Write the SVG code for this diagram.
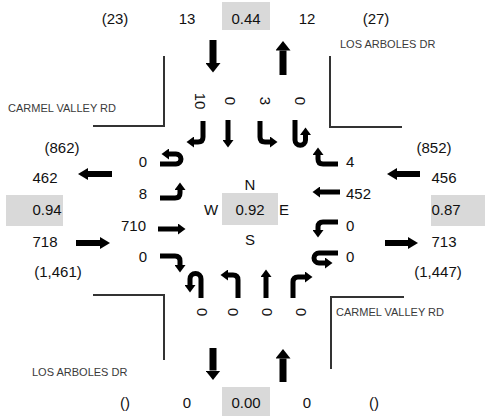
<svg xmlns="http://www.w3.org/2000/svg" width="485" height="416" viewBox="0 0 485 416">
  <defs>
    <style>
      .t { font-family: "Liberation Sans", Arial, sans-serif; font-size: 15px; fill: #111; }
      .m { text-anchor: middle; }
      .e { text-anchor: end; }
      .road { font-family: "Liberation Sans", Arial, sans-serif; font-size: 11px; fill: #3a3a3a; }
      .box { fill: #d9d9d9; }
      .curb { fill: none; stroke: #333; stroke-width: 2; }
      .lane { fill: none; stroke: #000; stroke-width: 5; marker-end: url(#tip); }
      .bigv { fill: none; stroke: #000; stroke-width: 7; marker-end: url(#bigtipv); }
      .bigh { fill: none; stroke: #000; stroke-width: 6; marker-end: url(#bigtiph); }
    </style>
    <!-- lane arrowhead: base at path end, tip 7px beyond -->
    <marker id="tip" markerUnits="userSpaceOnUse" markerWidth="8" markerHeight="11" refX="0" refY="5.5" orient="auto">
      <path d="M0,0 L7.5,5.5 L0,11 z" fill="#000"/>
    </marker>
    <marker id="bigtipv" markerUnits="userSpaceOnUse" markerWidth="10" markerHeight="15" refX="0" refY="7.5" orient="auto">
      <path d="M0,0 L9.5,7.5 L0,15 z" fill="#000"/>
    </marker>
    <marker id="bigtiph" markerUnits="userSpaceOnUse" markerWidth="11" markerHeight="12" refX="0" refY="6" orient="auto">
      <path d="M0,0 L10,6 L0,12 z" fill="#000"/>
    </marker>
  </defs>

  <rect width="485" height="416" fill="#fff"/>

  <!-- road edges at the four corners -->
  <g id="curbs">
    <path class="curb" d="M164,56 V126 H93"/>
    <path class="curb" d="M330,56 V127 H402"/>
    <path class="curb" d="M93,295 H164 V360"/>
    <path class="curb" d="M404,297 H331 V369"/>
  </g>

  <!-- street names -->
  <g id="street-names">
    <text class="road" x="340" y="48">LOS ARBOLES DR</text>
    <text class="road" x="8" y="112">CARMEL VALLEY RD</text>
    <text class="road" x="336" y="316">CARMEL VALLEY RD</text>
    <text class="road" x="32" y="376">LOS ARBOLES DR</text>
  </g>

  <!-- north leg -->
  <g id="north-leg">
    <rect class="box" x="222" y="2" width="48" height="28"/>
    <text class="t m" x="115" y="24">(23)</text>
    <text class="t m" x="187" y="24">13</text>
    <text class="t m" x="246" y="24">0.44</text>
    <text class="t m" x="307" y="24">12</text>
    <text class="t m" x="376" y="24">(27)</text>
    <path class="bigv" d="M213,40 V63"/>
    <path class="bigv" d="M283,75 V50.5"/>
    <g class="t m">
      <text transform="translate(200,101) rotate(90)" y="5">10</text>
      <text transform="translate(230,101) rotate(90)" y="5">0</text>
      <text transform="translate(265,101) rotate(90)" y="5">3</text>
      <text transform="translate(300,101) rotate(90)" y="5">0</text>
    </g>
    <path class="lane" d="M203,121 V137 Q203,142 198,142 H194"/>
    <path class="lane" d="M228,120 V140"/>
    <path class="lane" d="M260,121 V137 Q260,142 265,142 H270"/>
    <path class="lane" d="M295,120 V140 A5.25,5.25 0 0 0 305.5,140 V135"/>
  </g>

  <!-- west leg -->
  <g id="west-leg">
    <rect class="box" x="6" y="195" width="57" height="31"/>
    <text class="t m" x="62" y="153">(862)</text>
    <text class="t m" x="45" y="183">462</text>
    <text class="t m" x="47" y="215">0.94</text>
    <text class="t m" x="45" y="247">718</text>
    <text class="t m" x="58" y="277">(1,461)</text>
    <path class="bigh" d="M112,174 H88"/>
    <path class="bigh" d="M76,243 H100"/>
    <text class="t e" x="147" y="167">0</text>
    <text class="t e" x="147" y="199">8</text>
    <text class="t e" x="146" y="231">710</text>
    <text class="t e" x="147" y="262">0</text>
    <path class="lane" d="M160,164 H176 A5,5 0 0 0 176,154 H169"/>
    <path class="lane" d="M160,198 H175 Q180,198 180,193 V190"/>
    <path class="lane" d="M158,229 H178"/>
    <path class="lane" d="M160,256 H175 Q180,256 180,261 V265"/>
  </g>

  <!-- east leg -->
  <g id="east-leg">
    <rect class="box" x="431" y="195" width="54" height="31"/>
    <text class="t m" x="434" y="153">(852)</text>
    <text class="t m" x="444" y="183">456</text>
    <text class="t m" x="446" y="215">0.87</text>
    <text class="t m" x="444" y="247">713</text>
    <text class="t m" x="438" y="277">(1,447)</text>
    <path class="bigh" d="M420,174 H397"/>
    <path class="bigh" d="M385,243 H408"/>
    <text class="t" x="346" y="167">4</text>
    <text class="t" x="346" y="199">452</text>
    <text class="t" x="346" y="231">0</text>
    <text class="t" x="346" y="262">0</text>
    <path class="lane" d="M338,164 H323 Q318,164 318,159 V155"/>
    <path class="lane" d="M340,192 H320"/>
    <path class="lane" d="M338,222 H323 Q318,222 318,227 V230"/>
    <path class="lane" d="M338,253 H319 A5,5 0 0 0 319,263 H325"/>
  </g>

  <!-- south leg -->
  <g id="south-leg">
    <rect class="box" x="222" y="387" width="48" height="29"/>
    <text class="t m" x="125" y="408">()</text>
    <text class="t m" x="187" y="408">0</text>
    <text class="t m" x="246" y="408">0.00</text>
    <text class="t m" x="307" y="408">0</text>
    <text class="t m" x="374" y="408">()</text>
    <path class="bigv" d="M213,348 V370.5"/>
    <path class="bigv" d="M283,382 V358.5"/>
    <g class="t m">
      <text transform="translate(202,312) rotate(-90)" y="5">0</text>
      <text transform="translate(233,312) rotate(-90)" y="5">0</text>
      <text transform="translate(267,312) rotate(-90)" y="5">0</text>
      <text transform="translate(301,312) rotate(-90)" y="5">0</text>
    </g>
    <path class="lane" d="M201,298 V279 A5.5,5.5 0 0 0 190,279 V285"/>
    <path class="lane" d="M238,298 V280 Q238,275 233,275 H228"/>
    <path class="lane" d="M266,298 V277"/>
    <path class="lane" d="M293,298 V282 Q293,277 298,277 H305"/>
  </g>

  <!-- intersection centre -->
  <g id="centre">
    <rect class="box" x="222" y="193" width="56" height="32"/>
    <text class="t m" x="250" y="190">N</text>
    <text class="t m" x="211" y="215">W</text>
    <text class="t m" x="250" y="215">0.92</text>
    <text class="t m" x="284" y="215">E</text>
    <text class="t m" x="250" y="245">S</text>
  </g>
</svg>
